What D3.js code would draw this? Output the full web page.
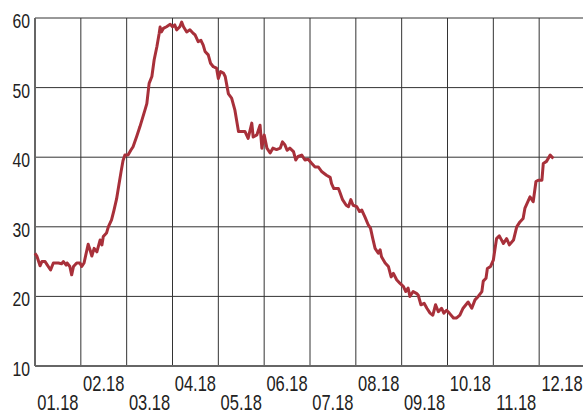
<!DOCTYPE html>
<html>
<head>
<meta charset="utf-8">
<script src="https://cdn.jsdelivr.net/npm/d3@7"></script>
<style>
  body { margin: 0; background: #fff; }
  text { font-family: "Liberation Sans", Arial, sans-serif; fill: #222; }
</style>
</head>
<body>
<svg id="chart" width="583" height="414"></svg>
<script>
// month labels (one per month, label sits in the middle of its month)
const monthLabels = ["01.18", "02.18", "03.18", "04.18", "05.18", "06.18",
                     "07.18", "08.18", "09.18", "10.18", "11.18", "12.18"];
const yTicks = [10, 20, 30, 40, 50, 60];

// position in months since 01.01.2018
const months = [0.00, 0.04, 0.11, 0.15, 0.22, 0.27, 0.34, 0.40, 0.51, 0.58, 0.62, 0.68, 0.70, 0.76, 0.80, 0.84, 0.91, 0.98,
  1.02, 1.07, 1.16, 1.20, 1.24, 1.29, 1.35, 1.42, 1.46, 1.49, 1.56, 1.60, 1.67, 1.72, 1.78, 1.83, 1.88, 1.92, 1.96,
  2.03, 2.09, 2.14, 2.22, 2.29, 2.40, 2.44, 2.49, 2.55, 2.60, 2.66, 2.71, 2.73, 2.76, 2.80, 2.87, 2.95,
  3.00, 3.05, 3.09, 3.16, 3.20, 3.24, 3.31, 3.38, 3.45, 3.49, 3.56, 3.62, 3.67, 3.71, 3.78, 3.83, 3.89, 3.96,
  4.00, 4.05, 4.11, 4.15, 4.22, 4.29, 4.36, 4.44, 4.51, 4.58, 4.65, 4.73, 4.76, 4.84, 4.91, 4.95,
  5.00, 5.06, 5.13, 5.19, 5.27, 5.35, 5.40, 5.45, 5.50, 5.56, 5.64, 5.69, 5.74, 5.82, 5.89, 5.96,
  6.04, 6.11, 6.18, 6.26, 6.36, 6.44, 6.47, 6.52, 6.62, 6.65, 6.71, 6.79, 6.84, 6.89, 6.94,
  7.02, 7.08, 7.13, 7.20, 7.27, 7.32, 7.37, 7.42, 7.49, 7.53, 7.56, 7.64, 7.71, 7.77, 7.82, 7.89, 7.96,
  8.04, 8.09, 8.14, 8.18, 8.25, 8.33, 8.36, 8.42, 8.49, 8.55, 8.62, 8.68, 8.74, 8.80, 8.87, 8.92, 8.98,
  9.04, 9.13, 9.20, 9.27, 9.34, 9.45, 9.53, 9.60, 9.67, 9.75, 9.78, 9.84, 9.87, 9.94,
  10.00, 10.07, 10.13, 10.22, 10.29, 10.35, 10.44, 10.51, 10.58, 10.65, 10.69, 10.80, 10.87, 10.93, 10.98,
  11.06, 11.09, 11.16, 11.24, 11.31];

const values = [26.2, 25.8, 24.4, 25.0, 25.0, 24.5, 23.8, 24.8, 24.8, 24.7, 25.0, 24.5, 24.8, 24.3, 23.1, 24.3, 24.8, 24.8,
  24.3, 24.8, 27.5, 26.7, 25.8, 26.9, 26.4, 28.1, 27.4, 28.6, 29.1, 30.0, 31.0, 32.3, 34.0, 36.0, 38.0, 39.5, 40.3,
  40.3, 41.0, 41.5, 43.0, 44.4, 46.8, 47.7, 50.6, 51.6, 54.0, 55.9, 57.8, 58.7, 58.0, 58.5, 58.75, 59.1,
  58.75, 59.0, 58.3, 58.75, 59.4, 58.75, 58.0, 58.3, 57.8, 57.6, 56.6, 56.8, 56.1, 55.2, 54.7, 53.5, 53.0, 52.8,
  51.3, 52.3, 52.1, 51.6, 49.1, 48.5, 46.8, 43.7, 43.7, 43.7, 42.7, 44.9, 42.9, 43.2, 44.6, 41.3,
  43.2, 41.3, 40.6, 41.3, 41.1, 41.3, 42.2, 41.8, 41.0, 41.3, 40.8, 39.6, 40.1, 40.3, 39.6, 39.7,
  39.1, 38.6, 38.6, 37.9, 37.4, 37.1, 36.2, 35.5, 35.5, 35.0, 33.9, 33.1, 32.9, 33.9, 33.1,
  32.9, 32.2, 32.4, 31.4, 30.3, 29.8, 28.3, 26.9, 26.2, 26.7, 25.7, 24.8, 24.3, 22.8, 23.3, 22.4, 21.9,
  21.4, 20.7, 21.2, 20.0, 20.7, 20.4, 20.2, 18.8, 19.0, 18.3, 17.6, 17.3, 18.8, 17.8, 18.3, 17.6, 18.0,
  17.6, 16.9, 16.9, 17.3, 18.3, 19.2, 18.3, 19.5, 20.0, 20.7, 22.2, 22.6, 24.0, 24.3,
  25.2, 28.3, 28.7, 27.6, 28.3, 27.4, 28.1, 30.0, 30.7, 31.2, 32.7, 34.3, 33.6, 36.5, 36.7,
  36.7, 39.1, 39.4, 40.3, 39.8];

const margin = { top: 18, right: 0, bottom: 48, left: 35 };
const width = 585 - margin.left;
const height = 414 - margin.top - margin.bottom;
const squeeze = 0.75; // condensed look for the labels

const svg = d3.select("#chart");
const g = svg.append("g").attr("transform", "translate(" + margin.left + "," + margin.top + ")");

const x = d3.scaleLinear().domain([0, 12]).range([0, width]);
const y = d3.scaleLinear().domain([10, 60]).range([height, 0]);

// horizontal grid
g.selectAll(".hgrid")
  .data(yTicks.slice(1))
  .enter().append("line")
  .attr("x1", 0).attr("x2", width)
  .attr("y1", d => y(d)).attr("y2", d => y(d))
  .attr("stroke", "#333").attr("stroke-width", 1);

// vertical grid at month starts
g.selectAll(".vgrid")
  .data(d3.range(1, 12))
  .enter().append("line")
  .attr("x1", d => x(d)).attr("x2", d => x(d))
  .attr("y1", 0).attr("y2", height)
  .attr("stroke", "#333").attr("stroke-width", 1);

// axis lines
g.append("line").attr("x1", 0).attr("x2", width).attr("y1", height).attr("y2", height)
  .attr("stroke", "#666").attr("stroke-width", 2);
g.append("line").attr("x1", 0).attr("x2", 0).attr("y1", 0).attr("y2", height)
  .attr("stroke", "#666").attr("stroke-width", 2);

// y labels
g.selectAll(".ylab")
  .data(yTicks)
  .enter().append("text")
  .attr("transform", d => "translate(-5," + (y(d) + 10) + ") scale(" + squeeze + ",1)")
  .attr("text-anchor", "end")
  .style("font-size", "21px")
  .text(d => d);

// month labels, even months on the upper row
g.selectAll(".xlab")
  .data(monthLabels)
  .enter().append("text")
  .attr("transform", (d, i) => "translate(" + x(i + 0.5) + "," + (i % 2 === 1 ? height + 25 : height + 44) + ") scale(" + squeeze + ",1)")
  .attr("text-anchor", "middle")
  .style("font-size", "22px")
  .text(d => d);

// the series
const line = d3.line()
  .x((d, i) => x(months[i]))
  .y(d => y(d));

g.append("path")
  .datum(values)
  .attr("fill", "none")
  .attr("stroke", "#a8303a")
  .attr("stroke-width", 3)
  .attr("stroke-linejoin", "round")
  .attr("d", line);
</script>
</body>
</html>
